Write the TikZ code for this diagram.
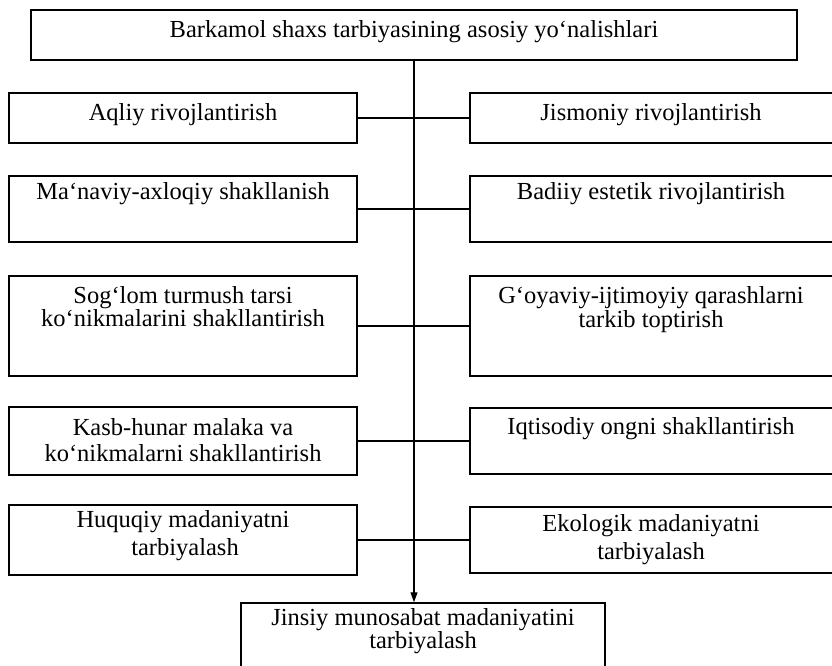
\documentclass[tikz,border=0pt]{standalone}
\usepackage{fontspec}
\setmainfont{Liberation Serif}
\usetikzlibrary{arrows.meta}
\begin{document}
\begin{tikzpicture}[x=1pt,y=-1pt,
  boxst/.style={draw, line width=1.5pt, rectangle, inner sep=0pt},
  lbox/.style={boxst, minimum width=348pt},
  rbox/.style={boxst, minimum width=365pt},
  txt/.style={font=\fontsize{24.5}{26}\selectfont, inner sep=0pt, anchor=base},
  conn/.style={line width=1.2pt}]
\useasboundingbox (0,0) rectangle (832,665);
\fill[white] (0,0) rectangle (832,665);
\clip (0,0) rectangle (832,665);
% boxes
\node[boxst, minimum width=766pt, minimum height=50pt] (top) at (414,35) {};
\node[lbox, minimum height=50pt] (l1) at (183,118) {};
\node[rbox, minimum height=50pt] (r1) at (652.5,118) {};
\node[lbox, minimum height=66pt] (l2) at (183,209) {};
\node[rbox, minimum height=66pt] (r2) at (652.5,209) {};
\node[lbox, minimum height=100pt] (l3) at (183,326) {};
\node[rbox, minimum height=100pt] (r3) at (652.5,326) {};
\node[lbox, minimum height=68pt] (l4) at (183,441) {};
\node[rbox, minimum height=66pt] (r4) at (652.5,441) {};
\node[lbox, minimum height=70pt] (l5) at (183,540) {};
\node[rbox, minimum height=66pt] (r5) at (652.5,540) {};
\node[boxst, minimum width=364pt, minimum height=80pt] (bot) at (423,643) {};
% texts
\node[txt] (t0) at (414,37) {Barkamol shaxs tarbiyasining asosiy yo‘nalishlari};
\node[txt] (t1l) at (183,120) {Aqliy rivojlantirish};
\node[txt] (t1r) at (651,120) {Jismoniy rivojlantirish};
\node[txt] (t2l) at (183,199) {Ma‘naviy-axloqiy shakllanish};
\node[txt] (t2r) at (651,199) {Badiiy estetik rivojlantirish};
\node[txt] (t3la) at (183,303) {Sog‘lom turmush tarsi};
\node[txt] (t3lb) at (183,326) {ko‘nikmalarini shakllantirish};
\node[txt] (t3ra) at (651,303) {G‘oyaviy-ijtimoyiy qarashlarni};
\node[txt] (t3rb) at (651,327) {tarkib toptirish};
\node[txt] (t4la) at (183,435) {Kasb-hunar malaka va};
\node[txt] (t4lb) at (183,461) {ko‘nikmalarni shakllantirish};
\node[txt] (t4r) at (651,434) {Iqtisodiy ongni shakllantirish};
\node[txt] (t5la) at (183,527) {Huquqiy madaniyatni};
\node[txt] (t5lb) at (185,555) {tarbiyalash};
\node[txt] (t5ra) at (651,531) {Ekologik madaniyatni};
\node[txt] (t5rb) at (651,559) {tarbiyalash};
\node[txt] (t6a) at (423,625) {Jinsiy munosabat madaniyatini};
\node[txt] (t6b) at (423,648) {tarbiyalash};
% connectors
\draw[conn] (l1.east) -- (r1.west);
\draw[conn] (l2.east) -- (r2.west);
\draw[conn] (l3.east) -- (r3.west);
\draw[conn] (l4.east) -- (r4.west);
\draw[conn] (l5.east) -- (r5.west);
\draw[conn, -{Triangle[length=10pt,width=7pt]}] (top.south) -- (top.south |- bot.north);
\end{tikzpicture}
\end{document}
